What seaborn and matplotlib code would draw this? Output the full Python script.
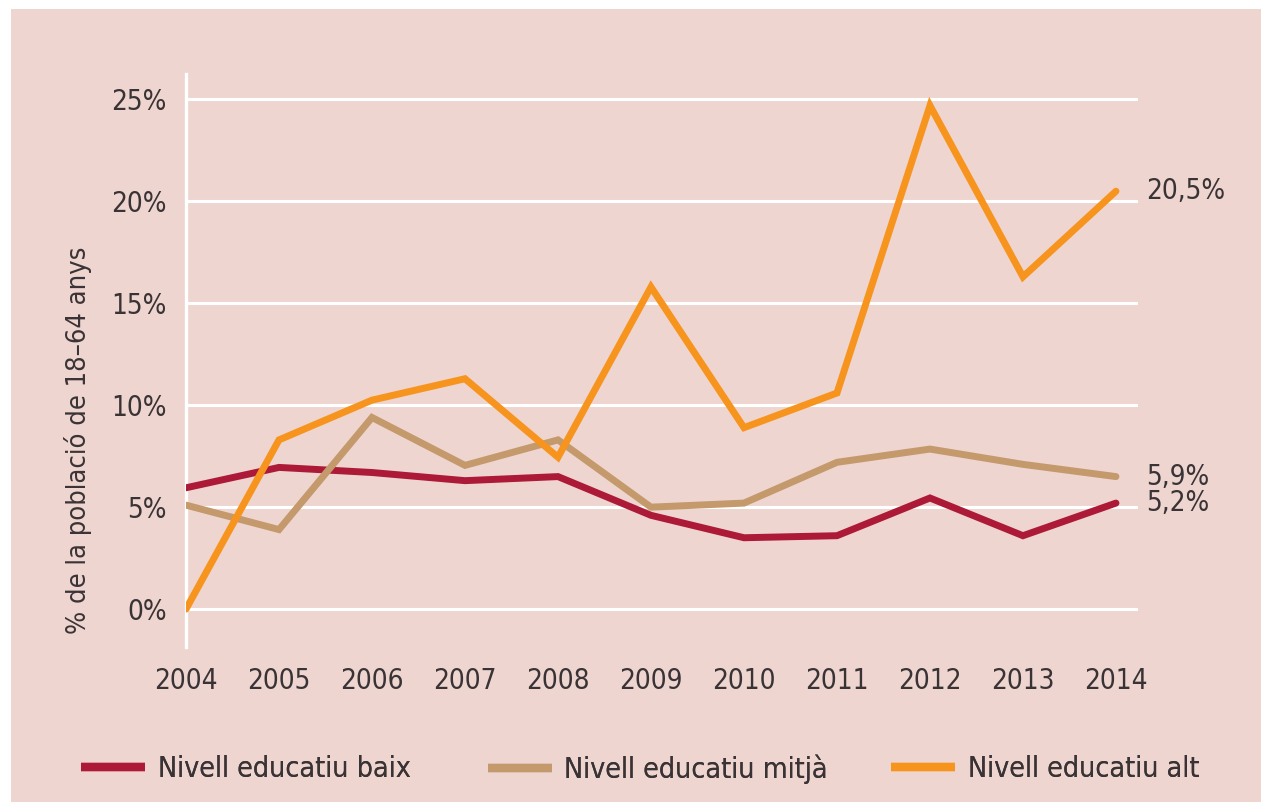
import pandas as pd
import numpy as np
import seaborn as sns
import matplotlib.pyplot as plt
from matplotlib import font_manager
from matplotlib.patches import Rectangle

years = [2004, 2005, 2006, 2007, 2008, 2009, 2010, 2011, 2012, 2013, 2014]
baix = [5.95, 6.95, 6.7, 6.3, 6.5, 4.6, 3.5, 3.6, 5.45, 3.6, 5.2]
mitja = [5.1, 3.9, 9.4, 7.05, 8.3, 5.0, 5.2, 7.2, 7.85, 7.1, 6.5]
alt = [0.0, 8.3, 10.25, 11.3, 7.45, 15.8, 8.9, 10.6, 24.7, 16.3, 20.5]
series_names = ['Nivell educatiu baix', 'Nivell educatiu mitjà', 'Nivell educatiu alt']
end_labels = ['5,2%', '5,9%', '20,5%']
yticks = [0, 5, 10, 15, 20, 25]
ytick_labels = ['0%', '5%', '10%', '15%', '20%', '25%']
colors = ['#AC1A38', '#C4996B', '#F7941D']

bg = '#EED5D0'
txt = '#3A3335'

sns.set_style('white')

# the original uses a condensed sans; take one if installed, else plain Liberation Sans
names = {f.name for f in font_manager.fontManager.ttflist}
cond = [f for f in font_manager.fontManager.ttflist
        if f.stretch in ('condensed', 'semi-condensed', 'extra-condensed')
        or 'Narrow' in f.name or 'Condensed' in f.name]
stretch = 'normal'
scale = 1.0
if 'Liberation Sans Narrow' in names:
    family = 'Liberation Sans Narrow'
elif cond:
    family = cond[0].name
    stretch = cond[0].stretch
else:
    family, scale = 'Liberation Sans', 0.85
plt.rcParams['font.family'] = [family, 'DejaVu Sans']
plt.rcParams['font.stretch'] = stretch
fs = 20 * scale
fs_leg = 20.5 * scale
fs_ylab = 19.5 * scale

df = pd.DataFrame({
    'year': years * 3,
    'value': baix + mitja + alt,
    'serie': np.repeat(series_names, len(years)),
})

fig = plt.figure(figsize=(12.61, 8.02), dpi=100, facecolor='white')
# pink panel (white strip top and left like the scan)
fig.patches.append(Rectangle((11 / 1261, 0), 1, (802 - 9) / 802,
                             transform=fig.transFigure, facecolor=bg,
                             edgecolor='none', zorder=-10))

ax = fig.add_axes([186 / 1261, 155 / 802, 952 / 1261, 573 / 802])
ax.set_facecolor('none')

sns.lineplot(data=df, x='year', y='value', hue='serie', hue_order=series_names,
             palette=colors, linewidth=5, ax=ax, legend=False, zorder=3,
             solid_joinstyle='miter')

ax.set_xlim(2004, 2014.237)
ax.set_ylim(-1.86, 26.25)

for y in yticks:
    ax.axhline(y, color='white', lw=2.2, zorder=1)

for s in ['top', 'right']:
    ax.spines[s].set_visible(False)
ax.spines['left'].set_color('white')
ax.spines['left'].set_linewidth(2.4)
ax.spines['bottom'].set_position(('data', 0))
ax.spines['bottom'].set_visible(False)

ax.set_xticks(years)
ax.set_xticklabels([str(y) for y in years])
ax.set_yticks(yticks)
ax.set_yticklabels(ytick_labels)
ax.tick_params(axis='x', direction='out', length=16.5, width=2.2, color='white',
               pad=25, labelsize=fs, labelcolor=txt)
ax.tick_params(axis='y', length=0, pad=14, labelsize=fs, labelcolor=txt)
ax.set_xlabel('')
ax.set_ylabel('')

for vals, lab in zip([baix, mitja, alt], end_labels):
    ax.annotate(lab, xy=(years[-1], vals[-1]), xytext=(22, 0),
                textcoords='offset points', ha='left', va='center',
                fontsize=fs, color=txt, annotation_clip=False)

fig.text(78 / 1261, 1 - 440 / 802, '% de la població de 18–64 anys',
         rotation=90, ha='center', va='center', fontsize=fs_ylab, color=txt)

# one legend entry per box so each sits where the original has it
leg_x = [55, 462, 865]
for name, c, x in zip(series_names, colors, leg_x):
    h = plt.Line2D([], [], color=c, lw=6, solid_capstyle='butt')
    lg = fig.legend([h], [name], loc='center left',
                    bbox_to_anchor=(x / 1261, 1 - 769 / 802), frameon=False,
                    fontsize=fs_leg, labelcolor=txt, handlelength=2.25,
                    handletextpad=0.45)
    fig.add_artist(lg)

fig.savefig('out.png', dpi=100, facecolor=fig.get_facecolor())
